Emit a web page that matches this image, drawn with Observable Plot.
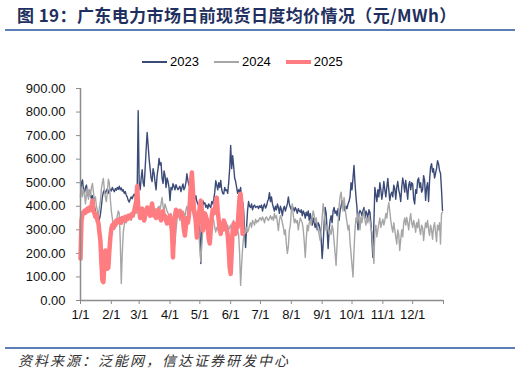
<!DOCTYPE html>
<html><head><meta charset="utf-8">
<script src="https://cdn.jsdelivr.net/npm/d3@7"></script>
<script src="https://cdn.jsdelivr.net/npm/@observablehq/plot@0.6"></script>
<style>
body{margin:0;background:#fff;width:520px;height:373px;position:relative;overflow:hidden;font-family:"Liberation Sans",Arial,sans-serif}
#title{position:absolute;left:17px;top:3px;font-family:"Noto Sans CJK SC";font-weight:700;font-size:17px;line-height:24px;color:#1F3060;letter-spacing:0.4px;white-space:nowrap}
#tline{position:absolute;left:5px;top:29px;width:510px;height:2px;background:#5B7FB5}
#chart{position:absolute;left:0;top:40px}
#legend{position:absolute;left:142px;top:54px;display:flex;align-items:center;font-size:13px;line-height:16px;color:#000}
.item{display:flex;align-items:center;margin-right:15px}
.sw{width:25px;margin-right:3px}
#sline{position:absolute;left:5px;top:347px;width:510px;height:1.5px;background:#5B7FB5}
#source{position:absolute;left:18px;top:350px;font-style:italic;font-size:14px;line-height:20px;letter-spacing:2px;color:#333;font-family:"Noto Sans CJK SC";white-space:nowrap}
</style>
</head><body>
<div id="title">图 19：广东电力市场日前现货日度均价情况（元/MWh）</div>
<div id="tline"></div>
<div id="chart"></div>
<div id="legend"></div>
<div id="sline"></div>
<div id="source">资料来源：泛能网，信达证券研发中心</div>
<script>
const seriesNames = ["2023", "2024", "2025"];
const seriesColors = ["#3B4B78", "#A6A6A6", "#FF7C80"];
const seriesWidths = [1.4, 1.4, 4.5];
const monthStarts = [0,31,59,90,120,151,181,212,243,273,304,334];
const monthLabels = ["1/1","2/1","3/1","4/1","5/1","6/1","7/1","8/1","9/1","10/1","11/1","12/1"];
const yTicks = [0,100,200,300,400,500,600,700,800,900];

const y2023 = [
440,500,512,470,455,480,490,460,440,470,455,430,445,425,400,380,360,330,318,345,365,400,440,460,470,455,465,475,455,468,472,
465,480,470,462,475,468,480,472,485,470,478,465,470,455,462,448,440,425,418,430,440,432,445,452,440,460,470,806,
500,470,520,555,500,485,560,640,713,660,600,560,520,505,560,540,500,470,530,560,603,575,585,520,497,550,530,480,520,505,480,
424,480,470,496,485,470,492,480,470,478,485,462,480,495,470,480,500,538,510,490,480,455,440,470,450,430,445,420,410,400,
300,157,300,424,410,415,396,405,390,410,400,395,420,410,430,460,509,490,470,500,480,510,470,455,452,480,467,470,455,500,560,
658,560,615,570,520,505,480,455,470,460,480,430,420,385,300,225,310,382,420,400,395,410,385,400,405,395,398,400,390,402,
395,405,380,400,410,392,400,420,430,458,420,440,410,395,380,400,385,410,395,370,400,385,360,390,400,380,395,410,440,410,395,
385,400,390,380,395,385,370,390,380,375,385,360,380,370,350,375,360,380,340,370,345,320,350,330,310,340,300,330,320,300,260,
178,240,330,395,370,300,221,300,340,360,330,380,395,370,380,360,390,340,380,400,424,395,410,380,400,390,410,420,440,500,
470,520,573,500,440,395,300,370,382,375,360,380,395,350,380,370,340,385,375,330,260,183,330,480,450,420,470,440,500,470,430,
460,505,470,440,480,518,470,424,450,460,440,490,475,430,480,505,470,450,420,480,520,495,460,510,470,430,490,505,470,500,
495,430,410,470,455,510,520,480,500,460,470,530,510,425,480,500,420,510,566,581,545,560,520,540,560,594,580,552,540,470,382
];
const y2024 = [
450,480,440,470,455,410,450,480,430,470,445,480,497,460,424,440,400,380,360,396,420,474,500,518,470,440,420,460,515,500,430,
380,350,320,300,310,330,360,380,370,250,72,200,290,320,340,330,350,345,360,350,340,365,370,355,380,370,390,380,
385,370,395,380,360,375,390,370,385,365,380,395,375,360,385,370,390,380,365,395,400,385,410,437,400,380,410,395,380,370,360,
350,370,340,300,260,240,300,340,370,355,340,370,360,380,370,355,385,400,370,360,390,380,400,370,350,380,360,340,320,290,
220,165,240,300,330,320,345,330,350,340,320,300,330,350,340,310,290,310,300,330,320,290,310,300,320,340,330,310,320,300,310,
320,300,330,340,320,310,330,300,280,200,64,150,220,270,300,285,310,290,300,320,330,310,340,330,320,345,330,340,335,350,
350,340,355,345,330,350,355,345,340,350,360,345,355,340,370,350,360,330,297,340,360,350,330,310,280,300,240,200,230,297,320,
380,410,360,330,345,330,340,300,330,350,340,330,300,250,183,260,320,297,330,340,320,355,380,360,330,350,320,300,280,255,300,
350,411,380,330,297,320,300,283,300,280,320,300,250,200,149,240,330,400,440,460,420,380,437,400,360,330,300,320,250,200,
150,100,210,300,350,330,370,340,300,355,330,360,380,340,320,350,330,360,340,310,290,230,157,297,320,270,300,327,350,310,330,
345,320,340,369,350,390,416,380,340,310,290,330,300,270,240,300,280,212,260,300,270,330,350,320,353,330,300,340,369,330,
310,340,320,290,330,310,345,300,280,320,310,255,300,330,310,340,300,276,320,300,260,310,330,290,250,320,300,330,240,369,375
];
const y2025 = [
178,340,365,375,380,372,385,390,380,395,385,400,424,380,370,355,365,340,330,290,255,160,85,78,150,212,180,135,140,210,267,
305,320,310,330,320,340,330,335,345,340,330,350,345,340,355,350,345,360,355,350,365,360,370,380,400,420,485,400,
380,350,365,390,370,340,360,375,395,370,380,360,390,412,380,360,370,350,365,385,370,355,340,365,380,350,360,340,327,350,345,
360,330,290,183,300,360,385,370,360,375,380,355,370,340,300,276,320,350,330,360,420,500,543,470,390,370,330,267,330,360,
400,424,380,297,330,370,360,340,300,260,242,300,360,385,370,380,420,437,380,340,300,283,320,300,340,330,310,300,280,220,140,
113,200,300,327,300,283,320,310,380,440,453,395,283
];

const allSeries = [y2023, y2024, y2025];
const toRows = (arr) => arr.map((v, i) => ({d: i, v}));

const legend = document.getElementById("legend");
seriesNames.forEach((name, k) => {
  const it = document.createElement("div");
  it.className = "item";
  const sw = document.createElement("span");
  sw.className = "sw";
  sw.style.height = seriesWidths[k] + "px";
  sw.style.background = seriesColors[k];
  const tx = document.createElement("span");
  tx.textContent = name;
  it.appendChild(sw); it.appendChild(tx);
  legend.appendChild(it);
});

const chart = Plot.plot({
  width: 520,
  height: 300,
  marginLeft: 80,
  marginRight: 77,
  marginTop: 48,
  marginBottom: 40,
  x: {domain: [0, 365]},
  y: {domain: [0, 900]},
  style: {fontFamily: "'Liberation Sans', Arial, sans-serif", fontSize: "13px", color: "#111", background: "transparent"},
  marks: [
    Plot.axisY({ticks: yTicks, tickFormat: d => d.toFixed(2), tickSize: 4, tickPadding: 11, stroke: "#8C8C8C", label: null}),
    Plot.axisX({ticks: [...monthStarts, 365], tickFormat: d => { const i = monthStarts.indexOf(d); return i < 0 ? "" : monthLabels[i]; }, tickSize: 4, tickPadding: 5, stroke: "#8C8C8C", label: null}),
    ...allSeries.map((arr, k) => Plot.line(toRows(arr), {x: "d", y: "v", stroke: seriesColors[k], strokeWidth: seriesWidths[k]})),
    Plot.ruleX([0], {stroke: "#8C8C8C", strokeWidth: 1.5}),
    Plot.ruleY([0], {stroke: "#8C8C8C", strokeWidth: 1.5})
  ]
});
document.getElementById("chart").appendChild(chart);
</script>
</body></html>
